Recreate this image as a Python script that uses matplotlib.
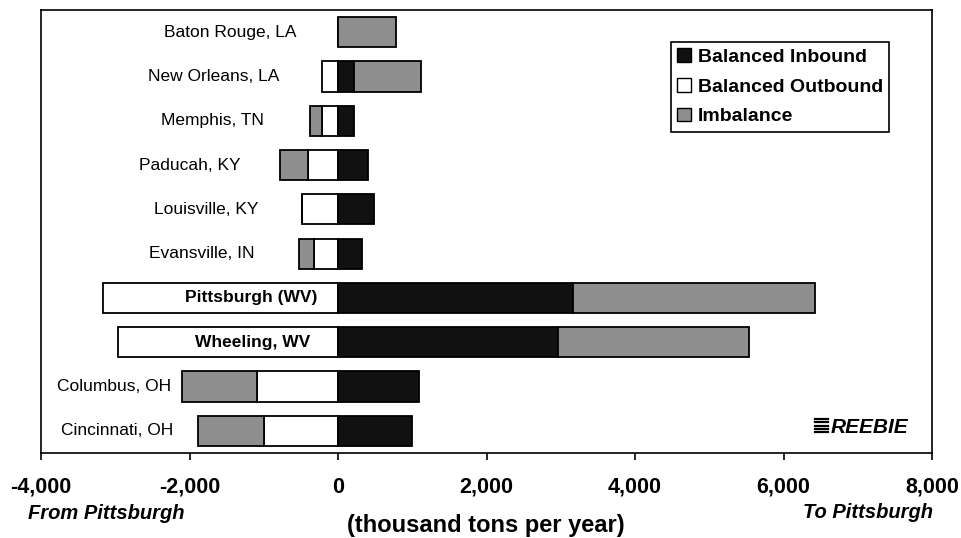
import matplotlib
matplotlib.use("Agg")
import matplotlib.pyplot as plt
from matplotlib.patches import Patch
from matplotlib.lines import Line2D
import numpy as np

plt.rcParams["font.family"] = ["Liberation Sans", "DejaVu Sans"]

# Flows between Pittsburgh and river ports (thousand tons per year)
cities = ["Baton Rouge, LA", "New Orleans, LA", "Memphis, TN", "Paducah, KY",
          "Louisville, KY", "Evansville, IN", "Pittsburgh (WV)", "Wheeling, WV",
          "Columbus, OH", "Cincinnati, OH"]
balanced_inbound = [0, 215, 215, 400, 490, 320, 3170, 2960, 1090, 1000]
balanced_outbound = [0, 215, 215, 400, 490, 320, 3170, 2960, 1090, 1000]
# positive = extra tons to Pittsburgh, negative = extra tons from Pittsburgh
imbalance = [780, 900, -160, -380, 0, -200, 3260, 2580, -1010, -890]

x_ticks = [-4000, -2000, 0, 2000, 4000, 6000, 8000]
x_tick_labels = [f"{v:,}" for v in x_ticks]

# label styling: bold labels sit inside the outbound bar
label_bold = [False] * 6 + [True, True] + [False, False]
label_gap_px = [42, 43, 46, 39, 43, 45, 21, 28, 11, 24]

C_IN = "#111111"
C_OUT = "#ffffff"
C_IMB = "#8e8e8e"

fig = plt.figure(figsize=(9.61, 5.38), dpi=100)
ax = fig.add_axes([41 / 961, 1 - 453 / 538, 891 / 961, 443 / 538])

n = len(cities)
y = np.arange(n)
h = 0.68
inb = np.array(balanced_inbound, dtype=float)
outb = np.array(balanced_outbound, dtype=float)
imb = np.array(imbalance, dtype=float)
imb_left = np.where(imb > 0, inb, -outb)

bar_kw = dict(height=h, edgecolor="black", linewidth=1.3)
ax.barh(y, -outb, left=0, color=C_OUT, **bar_kw)
ax.barh(y, inb, left=0, color=C_IN, **bar_kw)
ax.barh(y, imb, left=imb_left, color=C_IMB, **bar_kw)

# city labels
bar_left = np.minimum(-outb, imb_left + np.minimum(imb, 0))
for i, name in enumerate(cities):
    anchor = 0 if label_bold[i] else bar_left[i]
    ax.annotate(name, xy=(anchor, y[i]), xytext=(-label_gap_px[i], 0),
                textcoords="offset pixels", ha="right", va="center",
                fontsize=12.5, fontweight="bold" if label_bold[i] else "normal",
                color="black")

ax.set_xlim(-4000, 8000)
ax.set_ylim(n - 0.5, -0.5)
ax.set_yticks([])
ax.set_xticks(x_ticks)
ax.set_xticklabels(x_tick_labels, fontsize=15.5, fontweight="bold")
ax.tick_params(axis="x", direction="out", length=5, width=1.2, pad=12)
for s in ax.spines.values():
    s.set_color("black")
    s.set_linewidth(1.2)

handles = [Patch(facecolor=C_IN, edgecolor="black", label="Balanced Inbound"),
           Patch(facecolor=C_OUT, edgecolor="black", label="Balanced Outbound"),
           Patch(facecolor=C_IMB, edgecolor="black", label="Imbalance")]
leg = ax.legend(handles=handles, loc="upper right", bbox_to_anchor=(0.952, 0.928),
                borderaxespad=0, frameon=True, fancybox=False, framealpha=1,
                edgecolor="black", prop={"weight": "bold", "size": 14},
                handlelength=0.7, handleheight=0.7, handletextpad=0.35,
                labelspacing=0.62, borderpad=0.33)
leg.get_frame().set_linewidth(1.2)

fig.text(28 / 961, 1 - 519 / 538, "From Pittsburgh", ha="left", va="baseline",
         fontsize=14.5, fontweight="bold", fontstyle="italic")
fig.text(933 / 961, 1 - 518 / 538, "To Pittsburgh", ha="right", va="baseline",
         fontsize=14.5, fontweight="bold", fontstyle="italic")
fig.text(486 / 961, 1 - 532 / 538, "(thousand tons per year)", ha="center",
         va="baseline", fontsize=17, fontweight="bold")

# REEBIE mark
fig.text(908 / 961, 1 - 433 / 538, "REEBIE", ha="right", va="baseline",
         fontsize=15, fontweight="bold", fontstyle="italic")
for k in range(5):
    yy = 1 - (419 + k * 3.3) / 538
    fig.add_artist(Line2D([815 / 961, 828 / 961], [yy, yy],
                          transform=fig.transFigure, color="black", lw=1.6))

fig.savefig("out.png", dpi=100)
